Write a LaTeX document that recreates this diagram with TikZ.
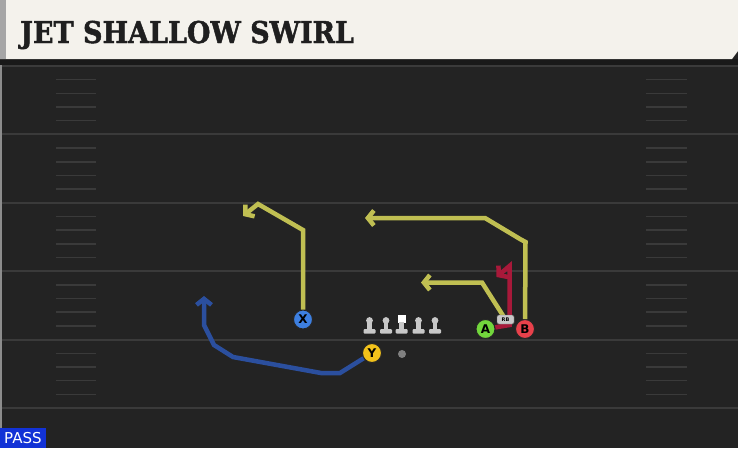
\documentclass[tikz,border=0pt]{standalone}
\usepackage{fontspec}
\setsansfont{DejaVu Sans}
\newfontfamily\titlefont[BoldFeatures={FakeBold=1.6}]{DejaVu Serif}
\usetikzlibrary{arrows.meta}

\definecolor{fieldbg}{HTML}{232323}
\definecolor{yardline}{HTML}{3A3A3A}
\definecolor{headerbg}{HTML}{F4F2EC}
\definecolor{olmark}{HTML}{C8C8C8}
\definecolor{yellowroute}{HTML}{C0BF52}
\definecolor{blueroute}{HTML}{2B4F9E}
\definecolor{redroute}{HTML}{A8193A}
\definecolor{xblue}{HTML}{3D7FE0}
\definecolor{yyellow}{HTML}{F2C21B}
\definecolor{agreen}{HTML}{72D63C}
\definecolor{bred}{HTML}{E8414B}
\definecolor{passblue}{HTML}{1232D6}

\tikzset{
  player/.style={circle,draw=black!85,line width=1pt,minimum size=19pt,inner sep=0pt,
    font=\sffamily\bfseries\fontsize{12}{12}\selectfont},
  route/.style={line width=4.5pt,-{Straight Barb[length=6pt,width=15pt]}},
  tag/.style={fill=olmark,draw=black!60,line width=0.4pt,rounded corners=1.5pt,inner sep=0pt,
    minimum width=17pt,minimum height=9pt,font=\sffamily\bfseries\fontsize{5}{5}\selectfont}
}

\begin{document}
\begin{tikzpicture}[x=1pt,y=-1pt]
      \useasboundingbox (0,0) rectangle (738,448);
      \fill[fieldbg] (0,0) rectangle (738,448);
      \fill[black!45] (0,59) rectangle (2,448);

      % yard lines and hash marks
      \foreach \n in {0,...,5}
      {
        \draw[yardline,line width=2pt] (2,66+68.4*\n) -- (738,66+68.4*\n);
      }
      \foreach \n in {0,...,4}
      {
        \foreach \k in {1,...,4}
        {
          \draw[yardline,line width=1.5pt] (56,66+68.4*\n+13.68*\k) -- (96,66+68.4*\n+13.68*\k);
          \draw[yardline,line width=1.5pt] (646,66+68.4*\n+13.68*\k) -- (687,66+68.4*\n+13.68*\k);
        }
      }

      % header
      \fill[black!90] (0,59) rectangle (738,65);
      \fill[headerbg] (0,0) -- (738,0) -- (738,51) -- (732,59) -- (0,59) -- cycle;
      \fill[black!35] (0,0) rectangle (6,59);
      \node[anchor=base west,inner sep=0pt,text=black!88,
        font=\titlefont\bfseries\fontsize{30}{30}\selectfont] (title) at (20,43)
        {\scalebox{0.9}[1]{JET SHALLOW SWIRL}};

      % line
      \foreach \x in {369.5,386,418.5,435}
      {
        \fill[olmark] (\x,320.5) circle (3.4);
        \fill[olmark] (\x-2.3,321) rectangle (\x+2.3,330);
        \fill[olmark,rounded corners=1pt] (\x-6,329) rectangle (\x+6,333.5);
      }
      \fill[white] (397.7,315) rectangle (405.7,323);
      \fill[olmark] (399.4,322) rectangle (404,330);
      \fill[olmark,rounded corners=1pt] (395.7,329) rectangle (407.7,333.5);
      \fill[black!50] (402,354) circle (4);

      % players
      \node[player,fill=xblue] (X) at (303,319.5) {X};
      \node[player,fill=yyellow] (Y) at (372,353) {Y};
      \node[player,fill=agreen] (A) at (485.5,329) {A};
      \node[player,fill=bred] (B) at (525,329) {B};
      \coordinate (rbspot) at (505.5,319.5);

      % routes
      \coordinate (x1) at (303,230);
      \coordinate (x2) at (258,204);
      \coordinate (x3) at (243,216);
      \draw[route,yellowroute] (X) -- (x1) -- (x2) -- (x3);

      \coordinate (y1) at (340,373);
      \coordinate (y2) at (321,373);
      \coordinate (y3) at (233,357);
      \coordinate (y4) at (214,345);
      \coordinate (y5) at (204,325);
      \coordinate (y6) at (204,296);
      \draw[route,blueroute] (Y) -- (y1) -- (y2) -- (y3) -- (y4) -- (y5) -- (y6);

      \coordinate (b1) at (525.5,242);
      \coordinate (b2) at (520,239);
      \coordinate (b3) at (485,218);
      \coordinate (b4) at (365,218);
      \draw[route,yellowroute] (B) -- (b1) -- (b2) -- (b3) -- (b4);

      \coordinate (r1) at (509.5,325);
      \coordinate (r2) at (509.5,266);
      \coordinate (r3) at (496.5,277);
      \draw[route,redroute] (A) -- (r1) -- (r2) -- (r3);

      \coordinate (a1) at (482,282.5);
      \coordinate (a2) at (421,282.5);
      \draw[route,yellowroute] (rbspot) -- (a1) -- (a2);

      \node[tag] (RB) at (rbspot) {RB};

      % play type
      \node[anchor=south west,fill=passblue,text=white,inner xsep=4pt,inner ysep=0pt,
        minimum height=20pt,font=\sffamily\fontsize{15}{15}\selectfont] (pass) at (0,448) {PASS};
\end{tikzpicture}
\end{document}
